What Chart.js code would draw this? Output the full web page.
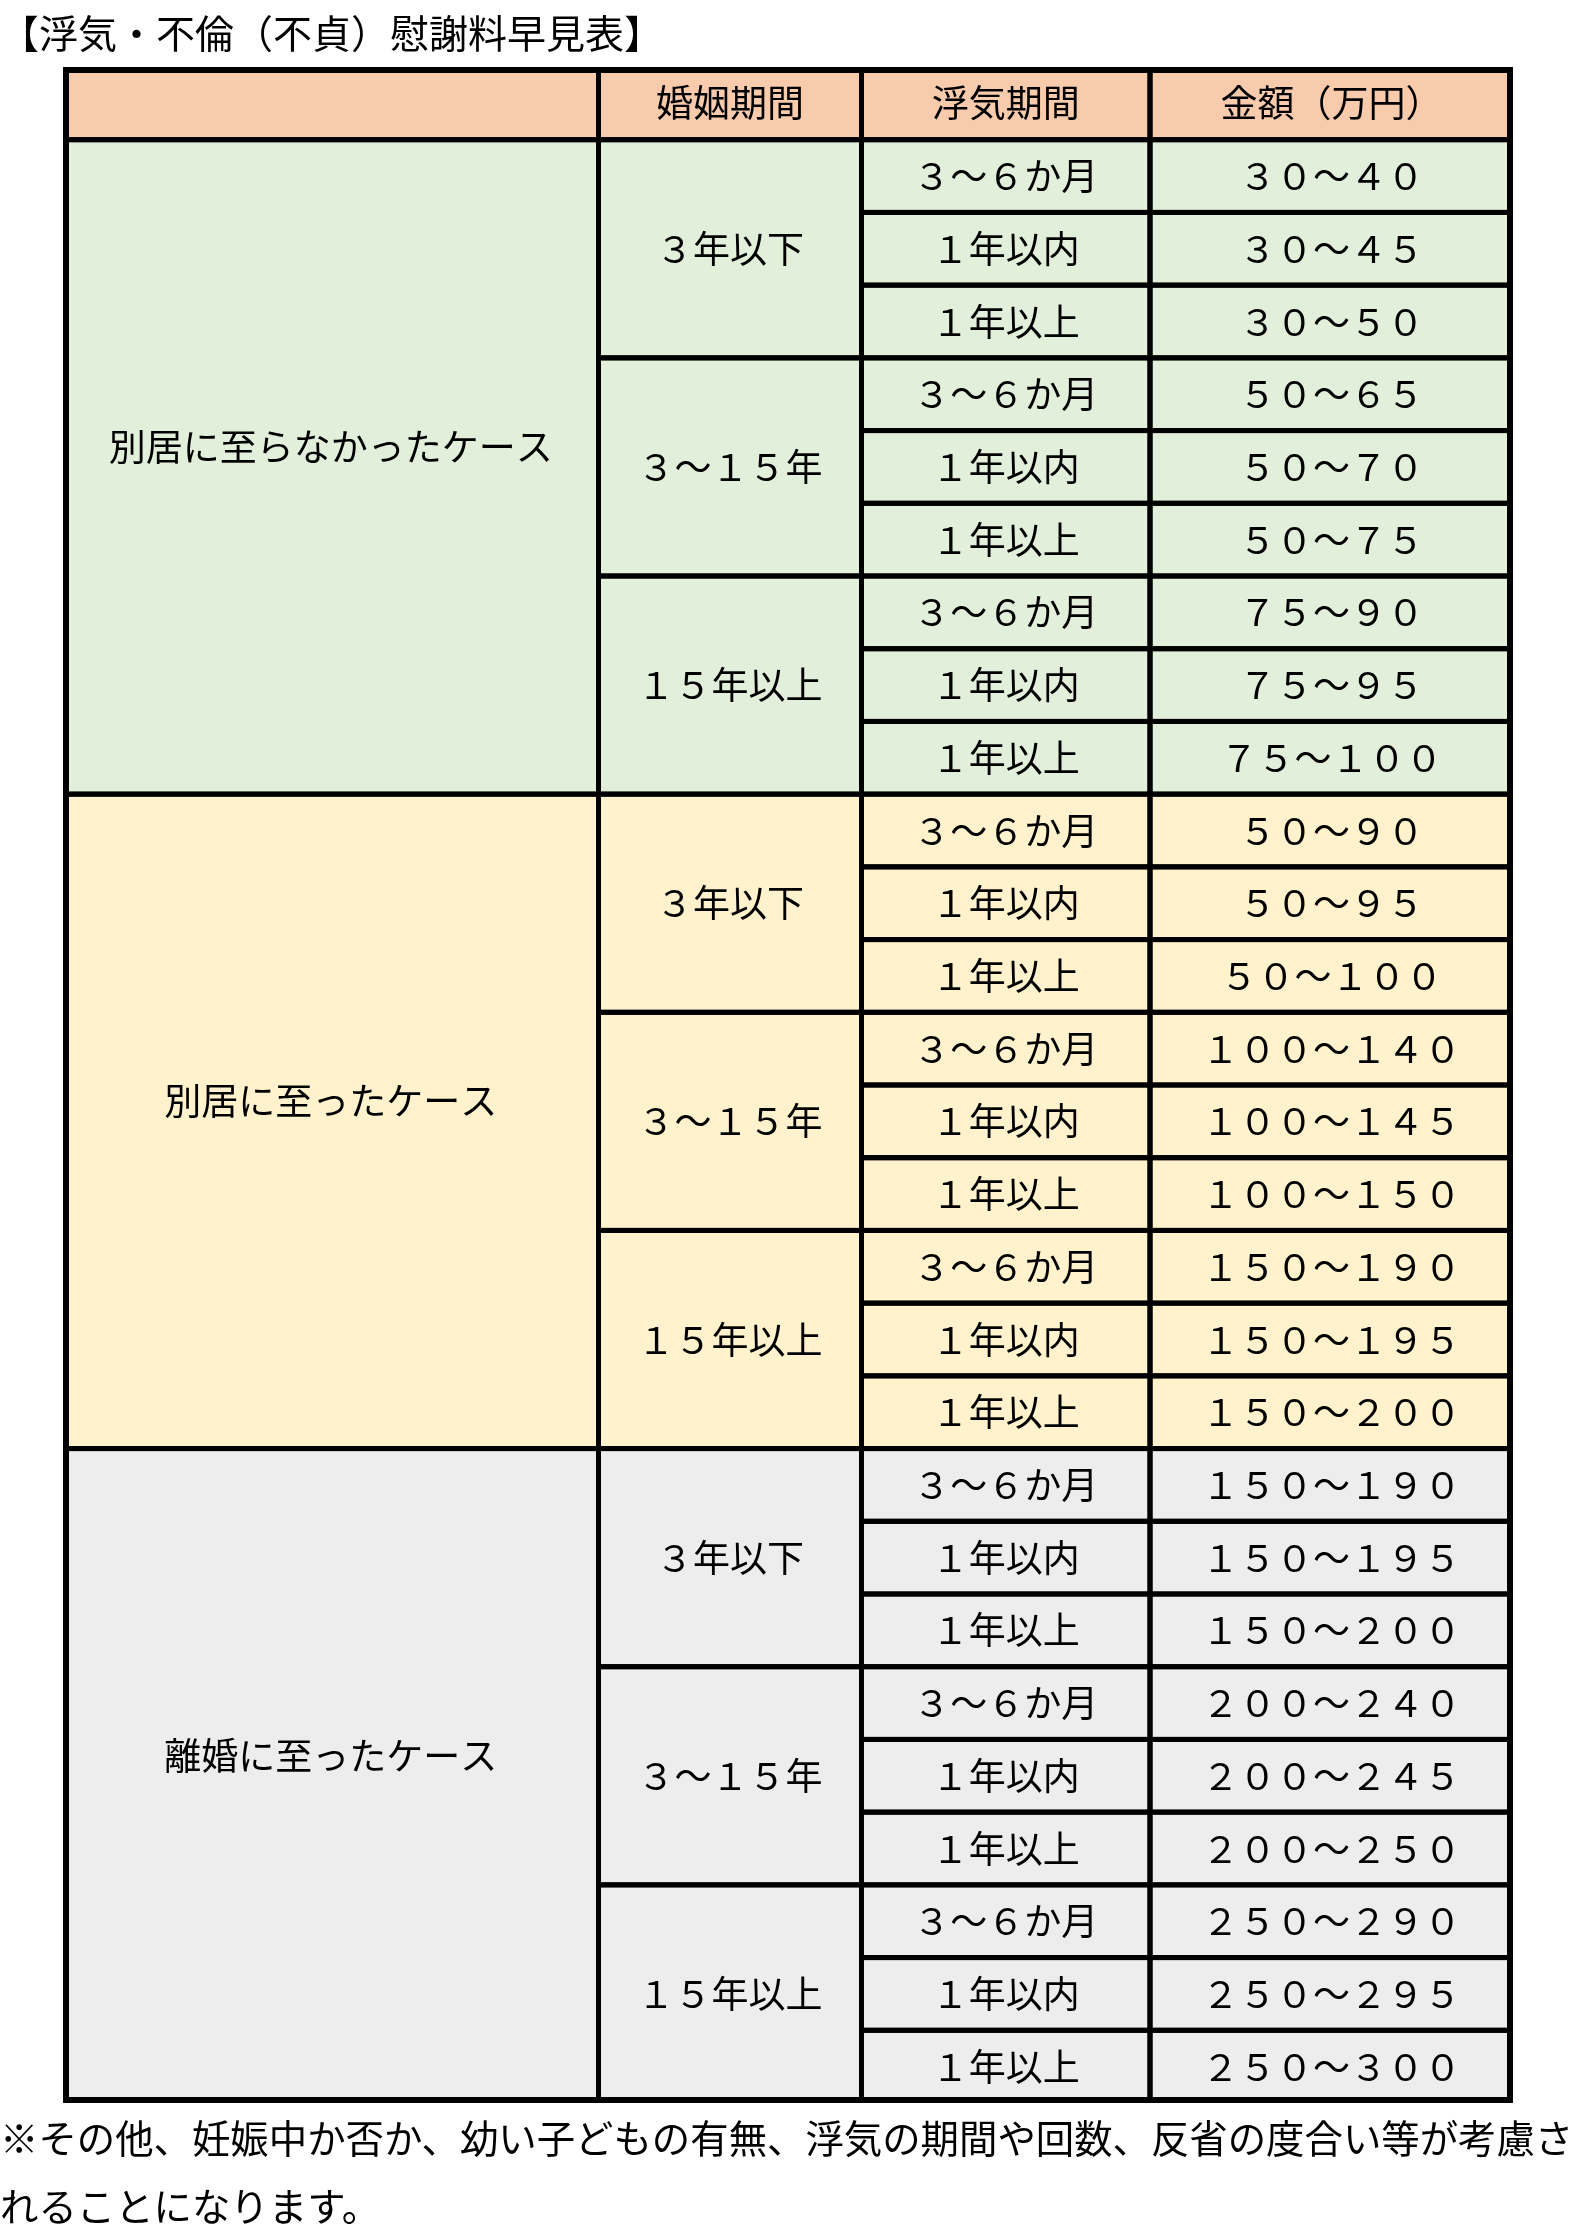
<!DOCTYPE html>
<html lang="ja">
<head>
<meta charset="utf-8">
<script src="https://cdn.jsdelivr.net/npm/chart.js@4.4.1/dist/chart.umd.min.js"></script>
<style>
    body { margin: 0; background: #fff; width: 1595px; height: 2237px; position: relative; overflow: hidden; font-family: "Noto Sans CJK JP", sans-serif; color: #000; }
    canvas { position: absolute; left: 0; top: 0; }
    #title { position: absolute; left: 0; top: 7px; font-size: 39px; line-height: 48px; white-space: nowrap; }
    #note { position: absolute; left: 0; top: 2102px; font-size: 38.4px; line-height: 68px; white-space: nowrap; }
</style>
</head>
<body>
<canvas id="table" width="1595" height="2237"></canvas>
<div id="title">【浮気・不倫（不貞）慰謝料早見表】</div>
<div id="note">※その他、妊娠中か否か、幼い子どもの有無、浮気の期間や回数、反省の度合い等が考慮さ<br>れることになります。</div>
<script>
// table contents
var headers = ["", "婚姻期間", "浮気期間", "金額（万円）"];
var groups = ["別居に至らなかったケース", "別居に至ったケース", "離婚に至ったケース"];
var marriageTerms = ["３年以下", "３～１５年", "１５年以上"];
var affairTerms = ["３～６か月", "１年以内", "１年以上"];
var amountLow = [30, 30, 30, 50, 50, 50, 75, 75, 75,
                 50, 50, 50, 100, 100, 100, 150, 150, 150,
                 150, 150, 150, 200, 200, 200, 250, 250, 250];
var amountHigh = [40, 45, 50, 65, 70, 75, 90, 95, 100,
                  90, 95, 100, 140, 145, 150, 190, 195, 200,
                  190, 195, 200, 240, 245, 250, 290, 295, 300];

// layout / style
var colWidths = [535.5, 263, 288.5, 363];
var headerColor = "#F8CBAD";
var groupColors = ["#E2EFDA", "#FFF2CC", "#EDEDED"];
var spans = [9, 3, 1, 1];
var outerLine = 6, innerLine = 5;
var cellFont = '37px "Noto Sans CJK JP", sans-serif';

function fullWidth(n) {
    return String(n).replace(/[0-9]/g, function (d) {
        return String.fromCharCode(d.charCodeAt(0) + 0xFEE0);
    });
}

var rowLabels = ["header"];
var rowGroup = [-1];
groups.forEach(function (g, gi) {
    marriageTerms.forEach(function (m) {
        affairTerms.forEach(function (a) {
            rowLabels.push(g + "/" + m + "/" + a);
            rowGroup.push(gi);
        });
    });
});

var datasets = colWidths.map(function (w, c) {
    return {
        label: headers[c] || "区分",
        data: rowLabels.map(function () { return w; }),
        backgroundColor: function (ctx) {
            return ctx.dataIndex === 0 ? headerColor : groupColors[rowGroup[ctx.dataIndex]];
        },
        borderWidth: 0,
        barPercentage: 1,
        categoryPercentage: 1
    };
});

// merged cell list: column, first row, last row, text, vertical shift
function buildCells() {
    var cells = [];
    headers.forEach(function (h, c) { cells.push([c, 0, 0, h, 0]); });
    groups.forEach(function (g, gi) {
        var first = 1 + gi * 9;
        cells.push([0, first, first + spans[0] - 1, g, -20]);
        marriageTerms.forEach(function (m, mi) {
            var f = first + mi * 3;
            cells.push([1, f, f + spans[1] - 1, m, 0]);
            affairTerms.forEach(function (a, ai) {
                cells.push([2, f + ai, f + ai, a, 0]);
            });
        });
    });
    amountLow.forEach(function (lo, r) {
        cells.push([3, r + 1, r + 1, fullWidth(lo) + "～" + fullWidth(amountHigh[r]), 0]);
    });
    return cells;
}
var cells = buildCells();

function cellBox(chart, c, first, last) {
    var meta = chart.getDatasetMeta(c);
    var a = meta.data[first], b = meta.data[last];
    return {
        left: Math.min(a.x, a.base),
        right: Math.max(a.x, a.base),
        top: a.y - a.height / 2,
        bottom: b.y + b.height / 2
    };
}

var tableGrid = {
    id: "tableGrid",
    afterDatasetsDraw: function (chart) {
        var ctx = chart.ctx, area = chart.chartArea;
        ctx.save();
        ctx.beginPath();
        ctx.rect(area.left, area.top, area.right - area.left, area.bottom - area.top);
        ctx.clip();
        ctx.strokeStyle = "#000";
        ctx.lineWidth = innerLine;
        cells.forEach(function (cell) {
            var box = cellBox(chart, cell[0], cell[1], cell[2]);
            ctx.strokeRect(box.left, box.top, box.right - box.left, box.bottom - box.top);
        });
        ctx.lineWidth = outerLine;
        ctx.strokeRect(area.left + outerLine / 2, area.top + outerLine / 2,
            area.right - area.left - outerLine, area.bottom - area.top - outerLine);
        ctx.restore();

        ctx.save();
        ctx.font = cellFont;
        ctx.fillStyle = "#000";
        ctx.textAlign = "center";
        ctx.textBaseline = "middle";
        cells.forEach(function (cell) {
            if (!cell[3]) return;
            var box = cellBox(chart, cell[0], cell[1], cell[2]);
            ctx.fillText(cell[3], (box.left + box.right) / 2, (box.top + box.bottom) / 2 + cell[4]);
        });
        ctx.restore();
    }
};

new Chart(document.getElementById("table"), {
    type: "bar",
    data: { labels: rowLabels, datasets: datasets },
    options: {
        indexAxis: "y",
        responsive: false,
        animation: false,
        layout: { padding: { left: 63, right: 82, top: 67, bottom: 134 } },
        plugins: {
            legend: { display: false },
            tooltip: { enabled: false },
            title: { display: false }
        },
        scales: {
            x: {
                stacked: true,
                display: false,
                min: 0,
                max: colWidths.reduce(function (s, w) { return s + w; }, 0)
            },
            y: { stacked: true, display: false }
        }
    },
    plugins: [tableGrid]
});
</script>
</body>
</html>
